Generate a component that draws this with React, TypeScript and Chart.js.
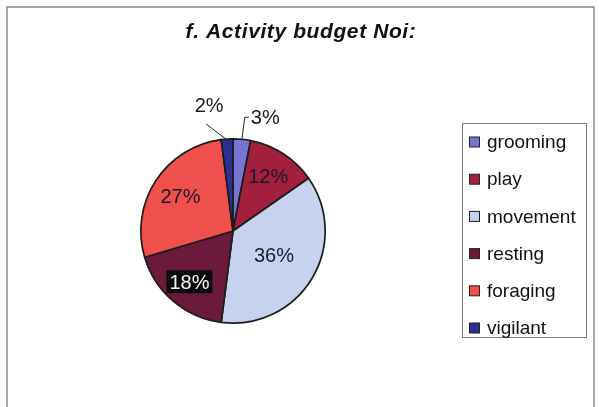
import React, { useEffect, useRef } from "react";
import { Chart, registerables } from "chart.js";

Chart.register(...registerables);

const TITLE = "f. Activity budget Noi:";
const CATEGORIES = ["grooming", "play", "movement", "resting", "foraging", "vigilant"];
const PERCENTS = [3, 12, 36, 18, 27, 2];
const COLORS = ["#7676d2", "#a2203e", "#c6d2ee", "#6c1a3c", "#f0504c", "#2c308e"];

// label placement style (not data): radial fraction for inside labels
const INSIDE_FRACTION = [0, 0.7, 0.52, 0.73, 0.68, 0];

const FONT = "'Liberation Sans', Arial, sans-serif";

const decorPlugin = {
  id: "decor",
  beforeDraw(chart: any) {
    const ctx = chart.ctx;
    ctx.save();
    ctx.fillStyle = "#ffffff";
    ctx.fillRect(0, 0, chart.width, chart.height);
    ctx.restore();
  },
  afterDraw(chart: any) {
    const ctx = chart.ctx;
    ctx.save();
    // frame
    ctx.strokeStyle = "#8a8a8a";
    ctx.lineWidth = 1.5;
    ctx.strokeRect(7, 7, 587, 420);

    // title
    ctx.fillStyle = "#111";
    ctx.font = `italic bold 21px ${FONT}`;
    (ctx as any).letterSpacing = "0.6px";
    ctx.textAlign = "center";
    ctx.textBaseline = "middle";
    ctx.fillText(TITLE, 301, 32);
    (ctx as any).letterSpacing = "0px";

    // slice labels
    const meta = chart.getDatasetMeta(0);
    const ds = chart.data.datasets[0];
    ctx.font = `20px ${FONT}`;
    meta.data.forEach((arc: any, i: number) => {
      const { x, y, startAngle, endAngle, outerRadius } = arc.getProps(
        ["x", "y", "startAngle", "endAngle", "outerRadius"],
        true
      );
      const mid = (startAngle + endAngle) / 2;
      const txt = ds.data[i] + "%";
      const cos = Math.cos(mid);
      const sin = Math.sin(mid);
      if (ds.data[i] >= 5) {
        const r = outerRadius * INSIDE_FRACTION[i];
        const lx = x + cos * r;
        const ly = y + sin * r;
        ctx.textAlign = "center";
        ctx.textBaseline = "middle";
        if (CATEGORIES[i] === "resting") {
          const w = ctx.measureText(txt).width + 6;
          ctx.fillStyle = "#0b0b0b";
          ctx.fillRect(lx - w / 2, ly - 12, w, 23);
          ctx.fillStyle = "#f4f4f4";
        } else {
          ctx.fillStyle = "#1a1a2a";
        }
        ctx.fillText(txt, lx, ly + 1);
      } else {
        const sx = x + cos * (outerRadius - 1);
        const sy = y + sin * (outerRadius - 1);
        ctx.strokeStyle = "#222";
        ctx.lineWidth = 1;
        ctx.fillStyle = "#1a1a1a";
        ctx.beginPath();
        if (cos >= 0) {
          const ex = sx + 3;
          const ey = sy - 23;
          ctx.moveTo(sx, sy);
          ctx.lineTo(ex, ey);
          ctx.lineTo(ex + 4, ey);
          ctx.stroke();
          ctx.textAlign = "left";
          ctx.textBaseline = "middle";
          ctx.fillText(txt, ex + 6, ey + 1);
        } else {
          const ex = sx - 21;
          const ey = sy - 16;
          ctx.moveTo(sx, sy);
          ctx.lineTo(ex, ey);
          ctx.stroke();
          ctx.textAlign = "center";
          ctx.textBaseline = "middle";
          ctx.fillText(txt, ex + 3, ey - 18);
        }
      }
    });

    // legend
    ctx.strokeStyle = "#7a7a7a";
    ctx.lineWidth = 1;
    ctx.strokeRect(462.5, 123.5, 124, 214);
    ctx.font = `19px ${FONT}`;
    ctx.textAlign = "left";
    ctx.textBaseline = "middle";
    CATEGORIES.forEach((c, i) => {
      const cy = 142 + i * 37.2;
      ctx.fillStyle = COLORS[i];
      ctx.fillRect(469.5, cy - 5, 10, 10);
      ctx.strokeStyle = "#222";
      ctx.strokeRect(469.5, cy - 5, 10, 10);
      ctx.fillStyle = "#111";
      ctx.fillText(c, 487, cy + 1);
    });
    ctx.restore();
  },
};

export default function App() {
  const ref = useRef<HTMLCanvasElement | null>(null);
  useEffect(() => {
    if (!ref.current) return;
    const chart = new Chart(ref.current, {
      type: "pie",
      data: {
        labels: CATEGORIES,
        datasets: [
          {
            data: PERCENTS,
            backgroundColor: COLORS,
            borderColor: "#1c1c1c",
            borderWidth: 1.7,
          },
        ],
      },
      options: {
        responsive: false,
        animation: false,
        layout: { padding: { left: 140, right: 273, top: 138, bottom: 83 } },
        plugins: {
          legend: { display: false },
          tooltip: { enabled: false },
          title: { display: false },
        },
      },
      plugins: [decorPlugin],
    });
    return () => chart.destroy();
  }, []);
  return (
    <div style={{ position: "fixed", left: 0, top: 0, width: 599, height: 407 }}>
      <canvas ref={ref} width={599} height={407} style={{ display: "block" }} />
    </div>
  );
}
